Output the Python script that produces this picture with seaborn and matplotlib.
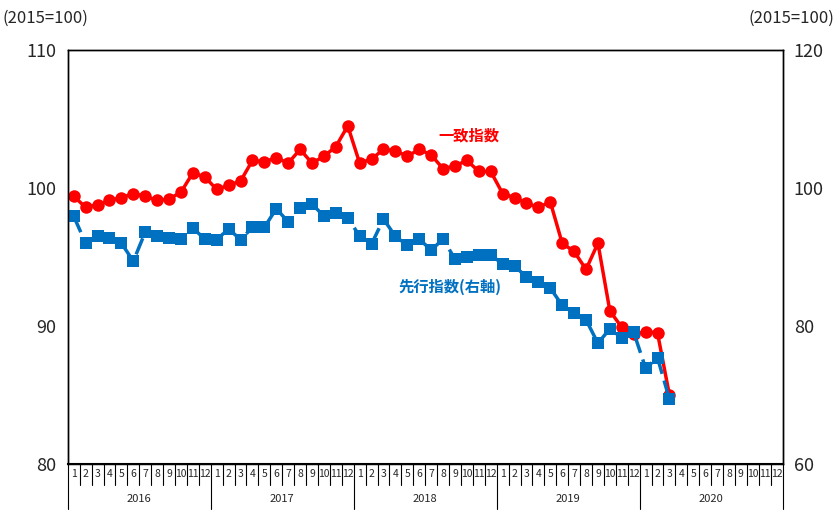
import matplotlib
matplotlib.use("Agg")
import matplotlib.pyplot as plt
import seaborn as sns
import numpy as np
import pandas as pd
from matplotlib.transforms import blended_transform_factory

years = ["2016", "2017", "2018", "2019", "2020"]
month_labels = [str(m) for m in range(1, 13)]
coincident = [99.4, 98.6, 98.8, 99.1, 99.3, 99.6, 99.4, 99.1, 99.2, 99.7, 101.1, 100.8,
              99.9, 100.2, 100.5, 102.0, 101.9, 102.2, 101.8, 102.8, 101.8, 102.3, 103.0, 104.5,
              101.8, 102.1, 102.8, 102.7, 102.3, 102.8, 102.4, 101.4, 101.6, 102.0, 101.2, 101.2,
              99.6, 99.3, 98.9, 98.6, 99.0, 96.0, 95.4, 94.1, 96.0, 91.1, 89.9, 89.4,
              89.6, 89.5, 85.0]
leading = [95.9, 92.0, 93.0, 92.8, 92.0, 89.4, 93.6, 93.0, 92.8, 92.6, 94.2, 92.6,
           92.5, 94.1, 92.5, 94.3, 94.3, 97.0, 95.1, 97.1, 97.7, 95.9, 96.4, 95.7,
           93.0, 91.9, 95.5, 93.0, 91.7, 92.6, 91.0, 92.6, 89.7, 90.0, 90.3, 90.3,
           89.0, 88.7, 87.1, 86.4, 85.5, 83.0, 81.9, 80.9, 77.5, 79.6, 78.3, 79.1,
           73.9, 75.4, 69.4]

sns.set_style("white")
plt.rcParams['font.family'] = ['Noto Sans CJK JP', 'DejaVu Sans']

df = pd.DataFrame({"x": np.arange(len(coincident)), "c": coincident, "l": leading})

fig = plt.figure(figsize=(8.37, 5.13), dpi=100)
ax = fig.add_axes([0.081, 0.0955, 0.854, 0.807])
ax2 = ax.twinx()

sns.lineplot(data=df, x="x", y="c", ax=ax, color="#ff0000", lw=2.5, marker="o",
             markersize=9, markeredgewidth=0)
sns.lineplot(data=df, x="x", y="l", ax=ax2, color="#0070c0", lw=2.5, marker="s",
             markersize=9, markeredgewidth=0, linestyle=(0, (5, 2)))

ax.set_xlim(-0.5, 59.5)
ax.set_ylim(80, 110)
ax2.set_ylim(60, 120)
ax.set_yticks([80, 90, 100, 110])
ax2.set_yticks([60, 80, 100, 120])
for a in (ax, ax2):
    a.set_xlabel("")
    a.set_ylabel("")
    a.set_xticks([])
    a.tick_params(axis="y", length=0, labelsize=13, pad=8)
    for s in a.spines.values():
        s.set_color("black")
        s.set_linewidth(1)
ax.spines["bottom"].set_linewidth(1.5)

tr = blended_transform_factory(ax.transData, ax.transAxes)
for i in range(60):
    ax.text(i, -0.024, month_labels[i % 12], transform=tr, ha="center", va="center", fontsize=7.5)
for i in range(61):
    ybot = -0.05 if i % 12 else -0.108
    ax.plot([i - 0.5, i - 0.5], [0, ybot], transform=tr, color="black", lw=0.8, clip_on=False)
for k, y in enumerate(years):
    ax.text(12 * k + 5.5, -0.085, y, transform=tr, ha="center", va="center", fontsize=8)

fig.text(0.003, 0.965, "(2015=100)", fontsize=12, ha="left", va="center")
fig.text(0.997, 0.965, "(2015=100)", fontsize=12, ha="right", va="center")
ax.text(33.2, 103.8, "一致指数", color="#ff0000", fontsize=11, fontweight="bold", ha="center", va="center")
ax.text(31.6, 92.8, "先行指数(右軸)", color="#0070c0", fontsize=11, fontweight="bold", ha="center", va="center")

fig.savefig("out.png", dpi=100)
